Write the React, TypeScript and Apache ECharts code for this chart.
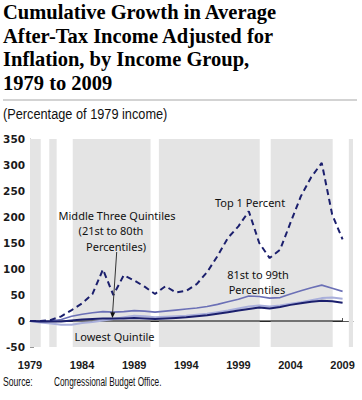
import React, { useEffect, useRef } from "react";
import * as echarts from "echarts";

const years = [
  1979, 1980, 1981, 1982, 1983, 1984, 1985, 1986, 1987, 1988, 1989, 1990, 1991,
  1992, 1993, 1994, 1995, 1996, 1997, 1998, 1999, 2000, 2001, 2002, 2003, 2004,
  2005, 2006, 2007, 2008, 2009,
];
const top1 = [
  0, 0, 2, 9, 21, 34, 52, 99, 50, 88, 78, 66, 52, 67, 55, 58, 71, 94, 125, 160,
  182, 211, 150, 121, 137, 189, 240, 277, 304, 205, 157,
];
const p81to99 = [
  0, -1, 0, 3, 9, 13, 16, 18, 17, 18, 20, 19, 17, 19, 21, 23, 25, 28, 32, 37,
  42, 48, 47, 44, 45, 52, 58, 64, 69, 63, 57,
];
const middleThree = [
  0, -1, -1, -1, 1, 3, 4, 5, 5, 5, 6, 5, 4, 5, 6, 7, 9, 11, 14, 17, 20, 23, 26,
  24, 27, 31, 34, 37, 39, 38, 35,
];
const lowest = [
  0, -3, -5, -7, -7, -4, -2, 1, 4, 7, 10, 9, 7, 8, 9, 10, 12, 14, 17, 20, 24,
  28, 30, 28, 30, 33, 36, 40, 44, 45, 43,
];
// shaded (expansion) periods, in fractional years
const shadedStart = [1979.0, 1980.85, 1983.1, 1991.37, 2002.1, 2009.6];
const shadedEnd = [1980.03, 1981.56, 1990.57, 2001.05, 2008.05, 2010.1];
const xTickYears = [1979, 1984, 1989, 1994, 1999, 2004, 2009];
const yMin = -50;
const yMax = 350;
const yStep = 50;
const baseYear = 1979;

const toPts = (vals: number[]) => years.map((y, i) => [y - baseYear, vals[i]]);

export default function App() {
  const ref = useRef<HTMLDivElement>(null);
  useEffect(() => {
    if (!ref.current) return;
    const chart = echarts.init(ref.current, null, { renderer: "svg" });
    const titleFont = "'Liberation Serif', serif";
    const annFont = "'Noto Sans', 'Liberation Sans', sans-serif";
    const sansFont = "'Liberation Sans', sans-serif";
    const ann = (text: string, x: number, y: number) => ({
      type: "text",
      x,
      y,
      style: {
        text,
        fontFamily: annFont,
        fontSize: 11,
        fill: "#111",
        align: "center",
        verticalAlign: "middle",
      },
      z: 100,
    });
    const titleLines = [
      "Cumulative Growth in Average",
      "After-Tax Income Adjusted for",
      "Inflation, by Income Group,",
      "1979 to 2009",
    ];
    const titleY = [12.2, 36, 59.2, 82.8];
    const option: any = {
      animation: false,
      grid: { left: 30, right: 9, top: 139, bottom: 53, containLabel: false },
      xAxis: {
        type: "value",
        min: 0,
        max: 31,
        interval: 5,
        axisLine: { show: true, lineStyle: { color: "#555", width: 1 } },
        axisTick: {
          show: true,
          inside: true,
          length: 3,
          lineStyle: { color: "#555" },
          customValues: xTickYears.map((y) => y - baseYear),
        },
        axisLabel: {
          customValues: xTickYears.map((y) => y - baseYear),
          formatter: (v: number) => String(v + baseYear),
          fontFamily: sansFont,
          fontWeight: "bold",
          fontSize: 11,
          color: "#1a1a1a",
          margin: 12,
        },
        splitLine: { show: false },
      },
      yAxis: {
        type: "value",
        min: yMin,
        max: yMax,
        interval: yStep,
        axisLine: { show: true, lineStyle: { color: "#999", width: 1 } },
        axisTick: { show: true, inside: true, length: 4, lineStyle: { color: "#999" } },
        axisLabel: {
          fontFamily: "'DejaVu Sans', sans-serif",
          fontWeight: "bold",
          fontSize: 10.5,
          color: "#1a1a1a",
          margin: 5,
        },
        splitLine: { show: false },
      },
      series: [
        {
          type: "line",
          name: "zero",
          data: [
            [0, 0],
            [years[years.length - 1] - baseYear, 0],
          ],
          symbol: "none",
          lineStyle: { color: "#000", width: 1 },
          z: 1,
          markArea: {
            silent: true,
            itemStyle: { color: "#e4e4e4" },
            data: shadedStart.map((s, i) => [
              { xAxis: s - baseYear },
              { xAxis: Math.min(shadedEnd[i] - baseYear, 31) },
            ]),
          },
        },
        {
          type: "line",
          name: "Lowest Quintile",
          data: toPts(lowest),
          symbol: "none",
          lineStyle: { color: "#a9afdb", width: 2 },
          z: 2,
        },
        {
          type: "line",
          name: "81st to 99th Percentiles",
          data: toPts(p81to99),
          symbol: "none",
          lineStyle: { color: "#6b70b6", width: 1.6 },
          z: 3,
        },
        {
          type: "line",
          name: "Middle Three Quintiles",
          data: toPts(middleThree),
          symbol: "none",
          lineStyle: { color: "#1b1f6d", width: 2 },
          z: 4,
        },
        {
          type: "line",
          name: "Top 1 Percent",
          data: toPts(top1),
          symbol: "none",
          lineStyle: { color: "#1b1f6d", width: 2, type: [6, 4] },
          z: 5,
        },
      ],
      graphic: [
        ...titleLines.map((t, i) => ({
          type: "text",
          x: 3,
          y: titleY[i],
          style: {
            text: t,
            fontFamily: titleFont,
            fontWeight: "bold",
            fontSize: 20.5,
            fill: "#000",
            align: "left",
            verticalAlign: "middle",
          },
        })),
        {
          type: "line",
          shape: { x1: 3, y1: 100, x2: 357, y2: 100 },
          style: { stroke: "#c4c4c4", lineWidth: 1.5 },
        },
        {
          type: "text",
          x: 3,
          y: 114,
          scaleX: 0.88,
          style: {
            text: "(Percentage of 1979 income)",
            fontFamily: sansFont,
            fontSize: 14.5,
            fill: "#111",
            align: "left",
            verticalAlign: "middle",
          },
        },
        {
          type: "text",
          x: 3,
          y: 382,
          scaleX: 0.72,
          style: {
            text: "Source:",
            fontFamily: sansFont,
            fontSize: 12,
            fill: "#111",
            align: "left",
            verticalAlign: "middle",
          },
        },
        {
          type: "text",
          x: 54,
          y: 382,
          scaleX: 0.69,
          style: {
            text: "Congressional Budget Office.",
            fontFamily: sansFont,
            fontSize: 12,
            fill: "#111",
            align: "left",
            verticalAlign: "middle",
          },
        },
        ann("Top 1 Percent", 250, 202),
        ann("81st to 99th", 258, 274.5),
        ann("Percentiles", 257, 289.5),
        ann("Middle Three Quintiles", 117, 215.5),
        ann("(21st to 80th", 111, 230.5),
        ann("Percentiles)", 116, 246),
        ann("Lowest Quintile", 114.5, 336.5),
        {
          type: "line",
          shape: { x1: 116.7, y1: 252, x2: 112.6, y2: 313 },
          style: { stroke: "#333", lineWidth: 1 },
          z: 100,
        },
        {
          type: "polygon",
          shape: {
            points: [
              [110.2, 312.2],
              [115.2, 312.6],
              [112.4, 318],
            ],
          },
          style: { fill: "#111" },
          z: 100,
        },
      ],
    };
    chart.setOption(option);
    return () => chart.dispose();
  }, []);
  return (
    <div
      ref={ref}
      style={{ position: "absolute", left: 0, top: 0, width: 362, height: 400, background: "#fff" }}
    />
  );
}
